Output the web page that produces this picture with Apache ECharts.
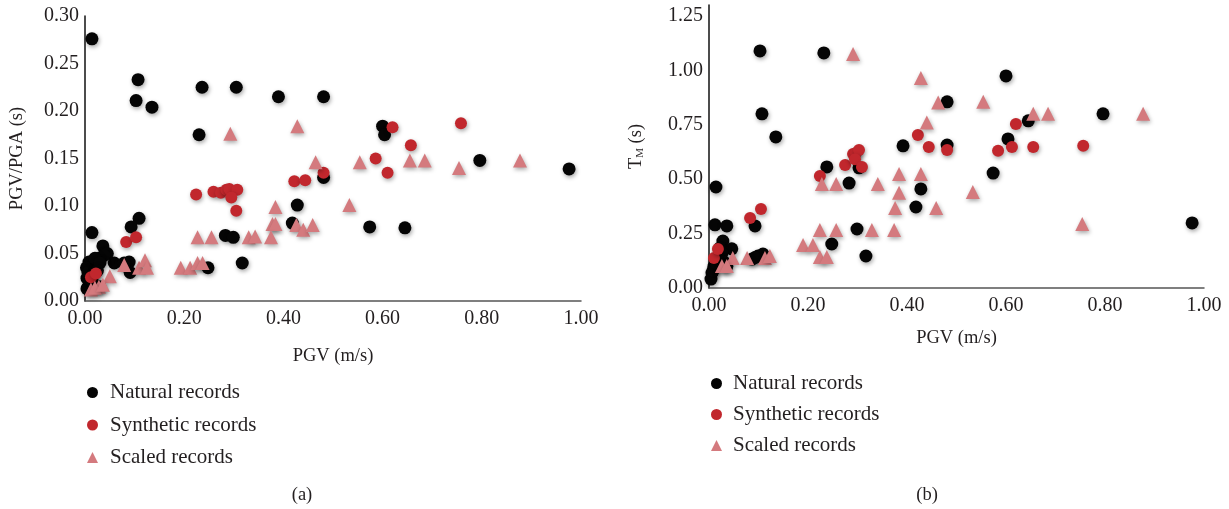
<html>
<head>
<meta charset="UTF-8">
<title>PGV scatter</title>
<style>
    html, body { margin: 0; padding: 0; background: #ffffff; }
    #chart { width: 1229px; height: 509px; }
</style>
</head>
<body>
<div id="chart"></div>
<script src="https://cdn.jsdelivr.net/npm/echarts@6/dist/echarts.min.js"></script>
<script>
    // (a) PGV vs PGV/PGA
    var naturalA = [[0.014,0.276],[0.107,0.233],[0.103,0.211],[0.135,0.204],[0.236,0.225],[0.305,0.225],[0.39,0.215],[0.481,0.215],
        [0.230,0.175],[0.60,0.184],[0.604,0.175],[0.796,0.148],[0.976,0.139],[0.574,0.078],[0.645,0.077],[0.481,0.130],
        [0.428,0.101],[0.418,0.082],[0.283,0.069],[0.299,0.067],[0.248,0.035],[0.317,0.040],[0.014,0.072],[0.109,0.087],
        [0.093,0.078],[0.059,0.040],[0.036,0.058],[0.045,0.050],[0.089,0.041],[0.091,0.030],[0.079,0.040],[0.004,0.013],
        [0.008,0.017],[0.012,0.027],[0.018,0.038],[0.028,0.045],[0.038,0.048],[0.004,0.024],[0.008,0.041],[0.003,0.035],
        [0.006,0.030],[0.015,0.020],[0.020,0.045],[0.030,0.040],[0.025,0.032],[0.030,0.015]];
    var syntheticA = [[0.224,0.112],[0.259,0.115],[0.274,0.114],[0.285,0.117],[0.291,0.118],[0.307,0.117],[0.295,0.109],[0.305,0.095],
        [0.422,0.126],[0.444,0.127],[0.62,0.183],[0.758,0.187],[0.657,0.164],[0.586,0.150],[0.61,0.135],[0.481,0.135],
        [0.083,0.062],[0.103,0.067],[0.012,0.025],[0.022,0.029]];
    var scaledA = [[0.293,0.176],[0.428,0.184],[0.384,0.099],[0.378,0.081],[0.384,0.081],[0.375,0.067],[0.227,0.067],[0.255,0.067],
        [0.33,0.067],[0.343,0.068],[0.193,0.035],[0.212,0.035],[0.227,0.040],[0.237,0.040],[0.426,0.080],[0.44,0.075],
        [0.459,0.080],[0.465,0.146],[0.554,0.146],[0.655,0.148],[0.685,0.148],[0.754,0.140],[0.877,0.148],[0.533,0.101],
        [0.028,0.015],[0.05,0.026],[0.079,0.038],[0.109,0.035],[0.121,0.043],[0.125,0.035],[0.012,0.012],[0.02,0.014],[0.036,0.017]];

    // (b) PGV vs T_M
    var naturalB = [[0.103,1.089],[0.232,1.08],[0.107,0.80],[0.135,0.694],[0.014,0.464],[0.012,0.29],[0.036,0.285],[0.093,0.285],
        [0.238,0.556],[0.283,0.482],[0.299,0.271],[0.248,0.202],[0.317,0.147],[0.392,0.653],[0.428,0.455],[0.418,0.372],
        [0.303,0.552],[0.60,0.974],[0.481,0.855],[0.796,0.80],[0.645,0.768],[0.604,0.685],[0.481,0.657],[0.574,0.528],
        [0.976,0.299],[0.028,0.216],[0.046,0.18],[0.022,0.184],[0.006,0.069],[0.01,0.10],[0.018,0.133],[0.026,0.16],
        [0.004,0.041],[0.087,0.133],[0.099,0.147],[0.109,0.156],[0.093,0.14],[0.008,0.08],[0.014,0.115],[0.03,0.12],[0.036,0.10]];
    var syntheticB = [[0.083,0.322],[0.105,0.363],[0.224,0.515],[0.275,0.565],[0.291,0.616],[0.297,0.62],[0.303,0.634],[0.295,0.591],
        [0.309,0.556],[0.422,0.703],[0.444,0.648],[0.62,0.753],[0.481,0.634],[0.584,0.63],[0.612,0.648],[0.655,0.648],
        [0.756,0.653],[0.01,0.138],[0.018,0.179]];
    var scaledB = [[0.291,1.075],[0.428,0.965],[0.44,0.76],[0.463,0.852],[0.228,0.478],[0.257,0.478],[0.341,0.478],[0.384,0.524],
        [0.428,0.524],[0.384,0.437],[0.376,0.368],[0.459,0.368],[0.224,0.266],[0.257,0.266],[0.329,0.266],[0.374,0.266],
        [0.19,0.198],[0.21,0.198],[0.224,0.142],[0.238,0.142],[0.077,0.138],[0.113,0.138],[0.123,0.147],[0.048,0.138],
        [0.026,0.101],[0.036,0.101],[0.554,0.855],[0.655,0.80],[0.685,0.80],[0.877,0.80],[0.533,0.441],[0.754,0.294]];

    var seriesNames = ['Natural records', 'Synthetic records', 'Scaled records'];
    var xTicks = { min: 0, max: 1, interval: 0.2 };
    var yTicksA = { min: 0, max: 0.3, interval: 0.05 };
    var yTicksB = { min: 0, max: 1.3, interval: 0.25 };

    var font = 'Liberation Serif';
    var textColor = '#231f20';
    var shadow = { shadowBlur: 4, shadowColor: 'rgba(0,0,0,0.35)', shadowOffsetX: 1, shadowOffsetY: 2 };

    function xAxis(idx, name, gap) {
        return {
            type: 'value', gridIndex: idx, min: xTicks.min, max: xTicks.max, interval: xTicks.interval,
            name: name, nameLocation: 'middle', nameGap: gap,
            nameTextStyle: { fontFamily: font, fontSize: 18.5, color: textColor },
            axisLine: { show: true, lineStyle: { color: '#555555', width: 1.5 } },
            axisTick: { show: false },
            splitLine: { show: false },
            axisLabel: { fontFamily: font, fontSize: 20, color: textColor, margin: 8,
                formatter: function (v) { return v.toFixed(2); } }
        };
    }
    function yAxis(idx, ticks, name, gap, rich) {
        return {
            type: 'value', gridIndex: idx, min: ticks.min, max: ticks.max, interval: ticks.interval,
            name: name, nameLocation: 'middle', nameGap: gap,
            nameTextStyle: { fontFamily: font, fontSize: 18.5, color: textColor, rich: rich },
            axisLine: { show: true, lineStyle: { color: '#111111', width: 1.5 } },
            axisTick: { show: false },
            splitLine: { show: false },
            axisLabel: { fontFamily: font, fontSize: 20, color: textColor, margin: 6, showMaxLabel: ticks.max === 0.3,
                formatter: function (v) { return v.toFixed(2); } }
        };
    }
    function scatter(name, idx, data, color, symbol, size) {
        return {
            name: name, type: 'scatter', xAxisIndex: idx, yAxisIndex: idx,
            symbol: symbol, symbolSize: size, data: data,
            itemStyle: Object.assign({ color: color, opacity: 1 }, shadow)
        };
    }
    function legend(left, top, gap, textPad) {
        return {
            left: left, top: top, orient: 'vertical', itemGap: gap, itemWidth: 11, itemHeight: 11,
            itemStyle: { shadowBlur: 0, shadowOffsetX: 0, shadowOffsetY: 0 },
            textStyle: { fontFamily: font, fontSize: 21, color: textColor, padding: [0, 0, 0, textPad], lineHeight: 21 },
            data: [
                { name: seriesNames[0], icon: 'circle' },
                { name: seriesNames[1], icon: 'circle' },
                { name: seriesNames[2], icon: 'triangle' }
            ]
        };
    }

    var mychart = echarts.init(document.getElementById('chart'), null, { renderer: 'canvas' });
    var option = {
        animation: false,
        backgroundColor: '#ffffff',
        title: [
            { text: '(a)', left: 297, top: 481, textAlign: 'center', textStyle: { fontFamily: font, fontSize: 18.5, fontWeight: 'normal', color: textColor } },
            { text: '(b)', left: 922, top: 481, textAlign: 'center', textStyle: { fontFamily: font, fontSize: 18.5, fontWeight: 'normal', color: textColor } }
        ],
        legend: [legend(82, 377, 11.5, 7), legend(706, 368, 10, 6)],
        grid: [
            { left: 85, top: 16, width: 496, height: 285 },
            { left: 709, top: 5, width: 495, height: 283 }
        ],
        xAxis: [xAxis(0, 'PGV (m/s)', 46), xAxis(1, 'PGV (m/s)', 41)],
        yAxis: [
            yAxis(0, yTicksA, 'PGV/PGA (s)', 58),
            yAxis(1, yTicksB, 'T{sub|M} (s)', 63, { sub: { fontFamily: font, fontSize: 11, color: textColor, padding: [9, 0, 0, 0] } })
        ],
        series: [
            scatter(seriesNames[0], 0, naturalA, '#050505', 'circle', 13),
            scatter(seriesNames[1], 0, syntheticA, '#c1272d', 'circle', 12),
            scatter(seriesNames[2], 0, scaledA, '#d47a7e', 'triangle', 14),
            scatter(seriesNames[0], 1, naturalB, '#050505', 'circle', 13),
            scatter(seriesNames[1], 1, syntheticB, '#c1272d', 'circle', 12),
            scatter(seriesNames[2], 1, scaledB, '#d47a7e', 'triangle', 14)
        ]
    };
    mychart.setOption(option);
</script>
</body>
</html>
